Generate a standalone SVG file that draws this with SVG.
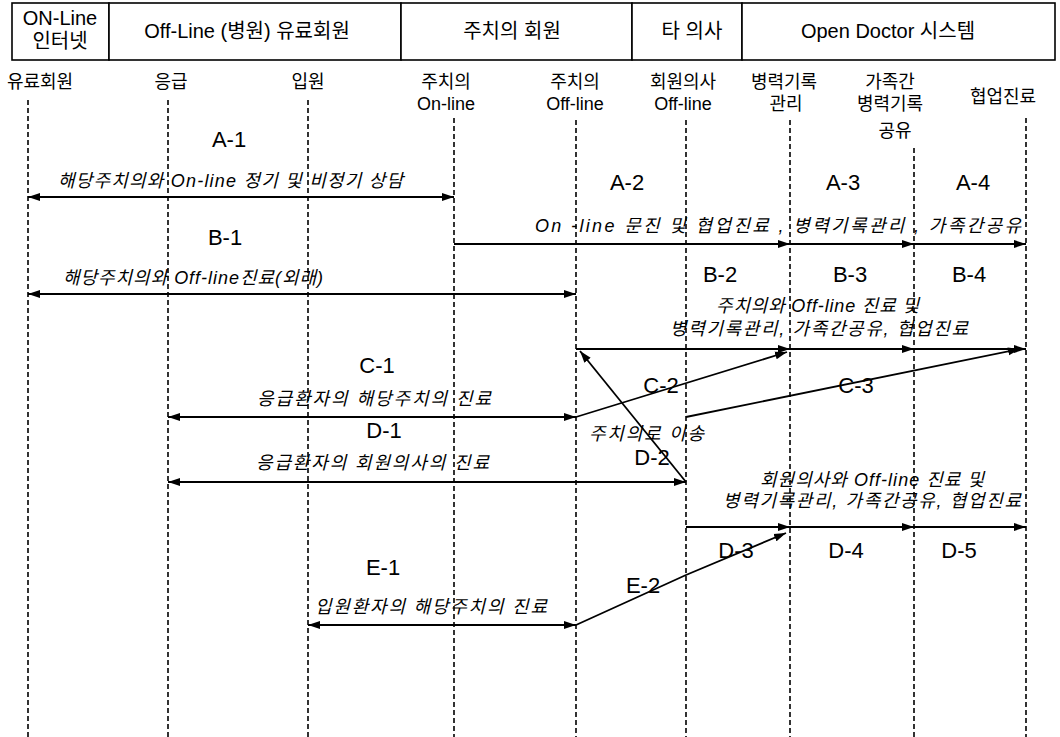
<svg xmlns="http://www.w3.org/2000/svg" width="1060" height="737" viewBox="0 0 1060 737">
<style>
.hdr{font-family:"Liberation Sans","Noto Sans CJK KR",sans-serif;font-size:20px;fill:#000;text-anchor:middle}
.lbl{font-family:"Liberation Sans","Noto Sans CJK KR",sans-serif;font-size:18px;fill:#000;text-anchor:middle}
.step{font-family:"Liberation Sans","Noto Sans CJK KR",sans-serif;font-size:22px;fill:#000;text-anchor:middle}
.note{font-family:"Liberation Sans","Noto Sans CJK KR",sans-serif;font-size:18px;font-style:italic;fill:#000}
.life{stroke:#000;stroke-width:1.6;stroke-dasharray:5 3;fill:none}
.box{fill:#fff;stroke:#000;stroke-width:1.6}
.arr{stroke:#000;stroke-width:1.8;fill:none;marker-end:url(#ah)}
.dbl{stroke:#000;stroke-width:1.8;fill:none;marker-end:url(#ah);marker-start:url(#ah)}
</style>
<defs>
<marker id="ah" viewBox="0 0 12 8" refX="12" refY="4" markerWidth="12" markerHeight="9" markerUnits="userSpaceOnUse" orient="auto-start-reverse"><path d="M0,0 L12,4 L0,8 z" fill="#000"/></marker>
</defs>
<rect width="1060" height="737" fill="#fff"/>

<g id="header">
  <g id="h-online"><rect class="box" x="12" y="3" width="97" height="57"/><text class="hdr" x="60" y="25">ON-Line</text><text class="hdr" x="60" y="48">인터넷</text></g>
  <g id="h-offline"><rect class="box" x="109" y="3" width="292" height="57"/><text class="hdr" x="247" y="38">Off-Line (병원) 유료회원</text></g>
  <g id="h-jucheo"><rect class="box" x="401" y="3" width="231" height="57"/><text class="hdr" x="512" y="38">주치의 회원</text></g>
  <g id="h-other"><rect class="box" x="632" y="3" width="110" height="57"/><text class="hdr" x="692" y="38">타 의사</text></g>
  <g id="h-od"><rect class="box" x="742" y="3" width="313" height="57"/><text class="hdr" x="888" y="38">Open Doctor 시스템</text></g>
</g>

<g id="lifelines">
  <g id="ll-paid"><text class="lbl" x="40" y="88">유료회원</text><line class="life" x1="28" y1="100" x2="28" y2="737"/></g>
  <g id="ll-emerg"><text class="lbl" x="171" y="88">응급</text><line class="life" x1="168" y1="100" x2="168" y2="737"/></g>
  <g id="ll-inpat"><text class="lbl" x="308" y="88">입원</text><line class="life" x1="308" y1="100" x2="308" y2="737"/></g>
  <g id="ll-jon"><text class="lbl" x="446" y="88">주치의</text><text class="lbl" x="446" y="110">On-line</text><line class="life" x1="454" y1="118" x2="454" y2="737"/></g>
  <g id="ll-joff"><text class="lbl" x="575" y="88">주치의</text><text class="lbl" x="575" y="110">Off-line</text><line class="life" x1="576" y1="120" x2="576" y2="737"/></g>
  <g id="ll-moff"><text class="lbl" x="683" y="88">회원의사</text><text class="lbl" x="683" y="110">Off-line</text><line class="life" x1="686" y1="120" x2="686" y2="737"/></g>
  <g id="ll-rec"><text class="lbl" x="784" y="88">병력기록</text><text class="lbl" x="786" y="110">관리</text><line class="life" x1="790" y1="120" x2="790" y2="737"/></g>
  <g id="ll-fam"><text class="lbl" x="890" y="88">가족간</text><text class="lbl" x="890" y="110">병력기록</text><text class="lbl" x="895" y="137">공유</text><line class="life" x1="914" y1="148" x2="914" y2="737"/></g>
  <g id="ll-collab"><text class="lbl" x="1003" y="103">협업진료</text><line class="life" x1="1026" y1="118" x2="1026" y2="737"/></g>
</g>

<g id="connectors">
  <line class="dbl" x1="28" y1="197" x2="454" y2="197"/>
  <line class="arr" x1="454" y1="244" x2="790" y2="244"/>
  <line class="arr" x1="790" y1="244" x2="914" y2="244"/>
  <line class="arr" x1="914" y1="244" x2="1026" y2="244"/>
  <line class="dbl" x1="28" y1="294" x2="576" y2="294"/>
  <line class="arr" x1="576" y1="349" x2="790" y2="349"/>
  <line class="arr" x1="790" y1="349" x2="914" y2="349"/>
  <line class="arr" x1="914" y1="349" x2="1026" y2="349"/>
  <line class="dbl" x1="168" y1="417" x2="576" y2="417"/>
  <line class="arr" x1="576" y1="417" x2="787" y2="352"/>
  <line class="arr" x1="686" y1="417" x2="1020" y2="349"/>
  <line class="arr" x1="686" y1="482" x2="580" y2="351"/>
  <line class="dbl" x1="168" y1="482" x2="686" y2="482"/>
  <line class="arr" x1="686" y1="527" x2="790" y2="527"/>
  <line class="arr" x1="790" y1="527" x2="914" y2="527"/>
  <line class="arr" x1="914" y1="527" x2="1026" y2="527"/>
  <polyline class="arr" points="576,625 686,575 786,533"/>
  <line class="dbl" x1="308" y1="625" x2="576" y2="625"/>
</g>

<g id="labels">
  <text class="step" x="229" y="147">A-1</text>
  <text class="note" x="58" y="187" textLength="345" lengthAdjust="spacing">해당주치의와 On-line 정기 및 비정기 상담</text>
  <text class="step" x="225" y="245">B-1</text>
  <text class="note" x="63" y="284" textLength="260" lengthAdjust="spacing">해당주치의와 Off-line진료(외래)</text>
  <text class="step" x="627" y="190">A-2</text>
  <text class="step" x="843" y="190">A-3</text>
  <text class="step" x="973" y="190">A-4</text>
  <text class="note" x="535" y="232" textLength="486" lengthAdjust="spacing">On -line  문진  및  협업진료 ,  병력기록관리  , 가족간공유</text>
  <text class="step" x="720" y="282">B-2</text>
  <text class="step" x="850" y="282">B-3</text>
  <text class="step" x="969" y="282">B-4</text>
  <text class="note" x="716" y="312" textLength="203" lengthAdjust="spacing">주치의와 Off-line 진료 및</text>
  <text class="note" x="670" y="335" textLength="298" lengthAdjust="spacing">병력기록관리, 가족간공유, 협업진료</text>
  <text class="step" x="377" y="373">C-1</text>
  <text class="note" x="257" y="405" textLength="234" lengthAdjust="spacing">응급환자의 해당주치의 진료</text>
  <text class="step" x="661" y="393">C-2</text>
  <text class="step" x="856" y="393">C-3</text>
  <text class="step" x="384" y="438">D-1</text>
  <text class="note" x="589" y="440" textLength="115" lengthAdjust="spacing">주치의로 이송</text>
  <text class="note" x="256" y="469" textLength="233" lengthAdjust="spacing">응급환자의 회원의사의 진료</text>
  <text class="step" x="652" y="465">D-2</text>
  <text class="note" x="760" y="486" textLength="224" lengthAdjust="spacing">회원의사와 Off-line 진료 및</text>
  <text class="note" x="723" y="507" textLength="298" lengthAdjust="spacing">병력기록관리, 가족간공유, 협업진료</text>
  <text class="step" x="736" y="558">D-3</text>
  <text class="step" x="846" y="558">D-4</text>
  <text class="step" x="959" y="558">D-5</text>
  <text class="step" x="383" y="575">E-1</text>
  <text class="step" x="643" y="593">E-2</text>
  <text class="note" x="315" y="613" textLength="232" lengthAdjust="spacing">입원환자의 해당주치의 진료</text>
</g>
</svg>
